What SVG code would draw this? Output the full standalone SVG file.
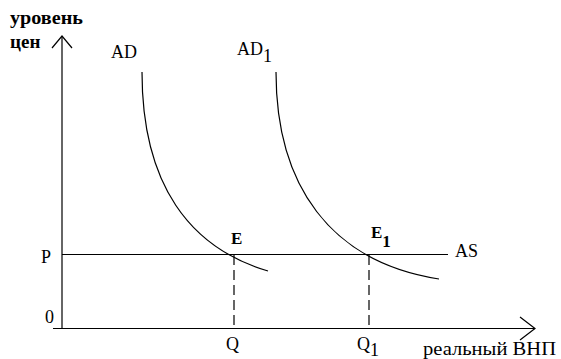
<svg xmlns="http://www.w3.org/2000/svg" width="561" height="359" viewBox="0 0 561 359">
<style>
.ln{stroke:#000;stroke-width:1.2;fill:none}
.ax{stroke:#333;stroke-width:1.5;fill:none}
.ds{stroke:#000;stroke-width:1.2;fill:none;stroke-dasharray:10,5}
text{font-family:"Liberation Serif","Times New Roman",serif;font-size:18px;fill:#000}
.b{font-weight:bold;font-size:17px}
.h{font-weight:bold;font-size:19px}
</style>
<rect width="561" height="359" fill="#fff"/>
<g id="axes">
<path class="ax" d="M62,36 V329"/>
<path class="ln" d="M52,48 L62,36 L72,48"/>
<path class="ln" d="M53,328.5 H535"/>
<path class="ln" d="M520,317 L535,328.5 L520,340"/>
</g>
<g id="connectors">
<path class="ln" d="M62,254.5 H448"/>
<path class="ds" d="M234,255 V328"/>
<path class="ds" d="M369,255 V328"/>
</g>
<g id="AD">
<path class="ln" d="M142,72 C142,185 190,248 268,271"/>
<text x="111" y="58">AD</text>
</g>
<g id="AD1">
<path class="ln" d="M276,72 C276,185 330,262 439,279"/>
<text x="237" y="55">AD<tspan dy="7">1</tspan></text>
</g>
<g id="labels">
<text class="h" x="10" y="24" textLength="73" lengthAdjust="spacingAndGlyphs">уровень</text>
<text class="h" x="10" y="48">цен</text>
<text x="41" y="263">P</text>
<text x="45" y="323">0</text>
<text class="b" x="231" y="244">E</text>
<text class="b" x="371" y="238">E<tspan dy="9">1</tspan></text>
<text x="455" y="257">AS</text>
<text x="226" y="350">Q</text>
<text x="357" y="350">Q<tspan dy="6">1</tspan></text>
<text x="423" y="355" textLength="133" lengthAdjust="spacingAndGlyphs">реальный ВНП</text>
</g>
</svg>
